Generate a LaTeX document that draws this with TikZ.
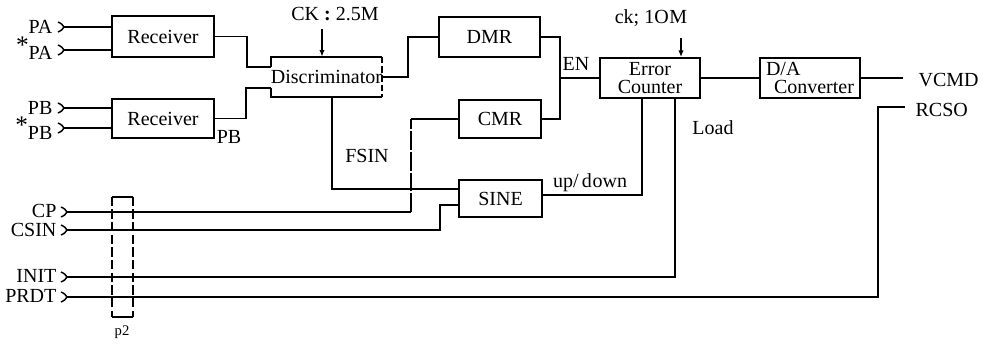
\documentclass[tikz,border=0pt]{standalone}
\usepackage{fontspec}
\setmainfont{Liberation Serif}
\usetikzlibrary{arrows.meta,calc}
\begin{document}
\begin{tikzpicture}[x=0.75pt,y=-0.75pt,
  every node/.style={font=\fontsize{15}{17}\selectfont},
  wire/.style={line width=1.4pt},
  blk/.style={draw,line width=1.4pt,inner sep=0pt},
  inlab/.style={anchor=east,inner sep=1pt},
  lab/.style={inner sep=1pt},
  clk/.style={line width=1.1pt,-{Latex[length=5pt,width=4pt]}},
  brk/.style={line width=1.4pt,dash pattern=on 14pt off 1.5pt}]
\useasboundingbox (0,0) rectangle (985,344);
\newcommand{\chev}[1]{\draw[line width=1.1pt] ($(#1)+(-6,-5)$) .. controls ($(#1)+(-2,-3)$) .. (#1) .. controls ($(#1)+(-2,3)$) .. ($(#1)+(-6,5)$);}

% blocks
\node[blk,minimum width=76.5pt,minimum height=30.75pt] (rec1) at (163,36.5) {Receiver};
\node[blk,minimum width=76.5pt,minimum height=29.25pt] (rec2) at (163,118.5) {Receiver};
\node[minimum width=80.25pt,minimum height=30pt,inner sep=0pt] (disc) at (326.5,77) {Discriminator};
\node[blk,minimum width=75.75pt,minimum height=30pt] (dmr) at (489.5,37) {DMR};
\node[blk,minimum width=61.5pt,minimum height=28.5pt] (cmr) at (500,119) {CMR};
\node[blk,minimum width=62.25pt,minimum height=27.75pt] (sine) at (500.5,198.5) {SINE};
\node[blk,minimum width=75pt,minimum height=30pt,align=center,font=\fontsize{15}{14}\selectfont] (ec) at (650,78) {Error\\Counter};
\node[blk,minimum width=75pt,minimum height=30pt,align=left,font=\fontsize{15}{14}\selectfont] (da) at (810,78) {D/A\\\hspace*{6pt}Converter};
\node[minimum width=15.75pt,minimum height=90pt,inner sep=0pt] (p2box) at (122.5,257) {};

% discriminator outline
\coordinate (din1) at ($(disc.north west)+(0,10)$);
\coordinate (din2) at ($(disc.south west)+(0,-9)$);
\draw[wire] (din1) -- (disc.north west) -- (disc.north east);
\draw[wire] (din2) -- (disc.south west) -- (disc.south east);
\draw[wire,dash pattern=on 5pt off 2pt] (disc.north east) -- (disc.south east);

% p2 bracket
\draw[wire] (p2box.north west) -- (p2box.north east);
\draw[wire] (p2box.south west) -- (p2box.south east);
\draw[line width=1.2pt,dash pattern=on 7pt off 2.5pt] (p2box.north west) -- (p2box.south west);
\draw[line width=1.2pt,dash pattern=on 7pt off 2.5pt] (p2box.north east) -- (p2box.south east);
\node[lab,font=\fontsize{11}{12}\selectfont] (p2) at (122,332) {p2};

% inputs
\node[inlab] (pa) at (54,27) {PA};
\node[inlab] (pan) at (54,48) {\raisebox{0.6ex}{\fontsize{19}{19}\selectfont *}PA};
\node[inlab] (pb) at (54,108) {PB};
\node[inlab] (pbn) at (54,128) {\raisebox{0.6ex}{\fontsize{19}{19}\selectfont *}PB};
\node[inlab] (cp) at (58,211) {CP};
\node[inlab] (csin) at (58,230) {CSIN};
\node[inlab] (init) at (58,276) {INIT};
\node[inlab] (prdt) at (58,296) {PRDT};
\coordinate (pat) at (64,27);
\coordinate (pant) at (64,50);
\coordinate (pbt) at (64,108);
\coordinate (pbnt) at (64,128);
\coordinate (cpt) at (67,212);
\coordinate (csint) at (67,230);
\coordinate (initt) at (67,277);
\coordinate (prdtt) at (67,297);
\foreach \c in {pat,pant,pbt,pbnt,cpt,csint,initt,prdtt} {\chev{\c}}

% other labels
\node[lab] (ck) at (335,14) {CK \textbf{:} 2.5M};
\coordinate (cka) at (322,29);
\node[lab] (ck2) at (651,18) {ck; 1O\kern0.5ptM};
\coordinate (ck2a) at (681,38);
\node[lab] (en) at (576,64) {EN};
\node[lab] (pbo) at (229,137) {PB};
\node[lab] (fsin) at (367,156) {FSIN};
\node[lab] (ud) at (590,183) {up/\,d\kern0.5ptown};
\node[lab] (load) at (713,128) {Load};
\node[lab,anchor=west] (vcmd) at (917,80) {VCMD};
\node[lab,anchor=west] (rcso) at (914,110) {RCSO};
\coordinate (vend) at (903,78);
\coordinate (rend) at (905,107);

% connectors
\draw[wire] (pat) -- (rec1.west |- pat);
\draw[wire] (pant) -- (rec1.west |- pant);
\draw[wire] (pbt) -- (rec2.west |- pbt);
\draw[wire] (pbnt) -- (rec2.west |- pbnt);
\draw[wire] (rec1.east) -- ++(32,0) |- (din1);
\draw[wire] (rec2.east) -- ++(31,0) |- (din2);
\draw[clk] (cka) -- (disc.north -| cka);
\draw[wire] (disc.east) -- ++(26,0) |- (dmr.west);
\coordinate (enj) at (560,78);
\draw[wire] (dmr.east) -| (enj) |- (cmr.east);
\draw[wire] (enj) -- (ec.west);
\draw[clk] (ck2a) -- (ec.north -| ck2a);
\draw[wire] (ec.east) -- (da.west);
\draw[wire] (da.east) -- (vend);
\draw[wire] (disc.south -| 332,0) |- (sine.west |- 0,189);
\coordinate (cpc) at (411,212);
\draw[wire] (cpt) -- (cpc);
\draw[brk] (cpc) -- (cpc |- cmr.west);
\draw[wire] (cpc |- cmr.west) -- (cmr.west);
\draw[wire] (csint) -- (440,230) -- (440,205) -- (sine.west |- 0,205);
\draw[wire] (sine.east |- 0,195) -| (ec.south -| 642,0);
\draw[wire] (initt) -| (ec.south -| 675,0);
\draw[wire] (prdtt) -- (878,297) |- (rend);
\end{tikzpicture}
\end{document}
